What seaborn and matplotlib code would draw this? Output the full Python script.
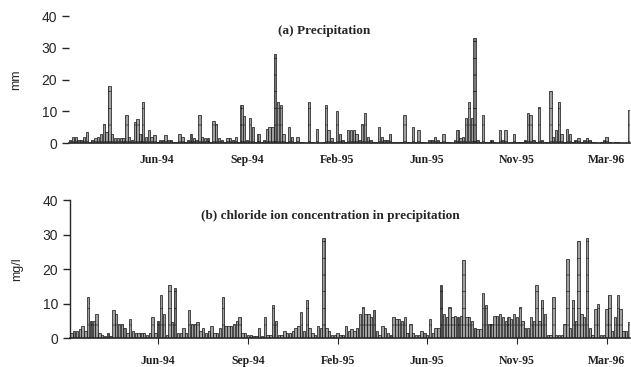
import numpy as np
import pandas as pd
import matplotlib
matplotlib.use("Agg")
import matplotlib.pyplot as plt
import seaborn as sns

# weekly samples
precip = [
    1, 2, 2, 1, 1, 2, 3.5, 0.5, 1, 1.5,
    2, 3, 6, 3.5, 18, 3, 1.5, 1.5, 1.5, 1.5,
    9, 2, 1, 6.5, 7.5, 3, 13, 2, 4, 2,
    2.5, 0.5, 1, 1, 2.5, 1, 1, 0.5, 0.3, 3,
    2, 0.5, 1, 3, 1.5, 1, 9, 2, 1.5, 1.5,
    0.5, 7, 6, 1.5, 1, 0.5, 1.5, 1.5, 1, 2,
    0.5, 12, 8.5, 1, 8, 5, 0.5, 3, 0.5, 1,
    4.5, 5, 5, 28, 13, 12, 3, 0.5, 5, 2,
    0.5, 2, 0.5, 0.5, 0, 13, 0.5, 0, 4.5, 0,
    0.3, 12, 4, 1.5, 0.5, 10, 3, 1, 0.5, 4,
    4, 4, 3, 1, 6, 9.5, 2, 1, 0.5, 0.5,
    5, 2, 1, 1, 3, 0.5, 0.5, 0.3, 0.5, 9,
    0.5, 0.5, 5, 0.5, 4, 0.5, 0.3, 0, 1, 1,
    2, 1, 0.5, 3, 0.5, 0.3, 0, 1, 4, 1.5,
    2, 8, 13, 8, 33, 1, 0.5, 9, 0.5, 0.3,
    1, 0.3, 0, 4, 1, 4, 0, 0.3, 3, 0.5,
    0.3, 0.5, 1, 9.5, 9, 1, 0.5, 11.5, 1, 0.3,
    0.5, 16.5, 2, 4, 13, 3, 0.5, 4.5, 3, 0.5,
    1, 1.5, 0.5, 1, 1.5, 1, 0.5, 0.3, 0, 0.5,
    1, 2, 0.5, 0, 0.3, 0.3, 0, 0, 0, 10.5,
]

chloride = [
    1.5, 2, 2, 2.5, 3.5, 2, 12, 5, 5, 7,
    1.5, 1, 0.5, 1.5, 0.5, 8, 7, 4, 4, 3,
    1.5, 5.5, 2, 1.5, 1.5, 1.5, 1.5, 1, 1.5, 6,
    1.5, 5, 12.5, 7, 1, 15.5, 4.5, 14.5, 1.5, 1.5,
    3, 1.5, 8, 4, 4, 4.5, 2, 3, 1.5, 2,
    3.5, 1.5, 1.5, 3, 12, 3.5, 3.5, 3.5, 4, 5,
    6, 1.5, 1.5, 1, 1, 0.5, 0.5, 3, 0.5, 6,
    1, 1, 9.5, 5, 1, 1, 2, 1.5, 1.5, 2,
    3, 3.5, 7.5, 2, 11, 3, 1.5, 1, 3.5, 3,
    29, 3, 2, 1, 1, 1.5, 1, 1, 3.5, 2,
    2.5, 2, 3, 7, 9, 7, 7, 6, 8, 2,
    1, 3.5, 3, 1.5, 1, 6, 5.5, 5.5, 5, 6,
    1.5, 4, 1.5, 1, 1, 2, 1.5, 1, 5.5, 1.5,
    3, 3, 15.5, 7, 6, 9, 6, 6.5, 6, 6.5,
    22.5, 6, 6, 5, 3, 2.5, 2.5, 13, 9.5, 4,
    4, 6.5, 6.5, 7, 6, 5, 6, 5.5, 7, 6,
    9, 5, 3, 3, 6, 5, 15.5, 5, 11, 7,
    1, 1, 12, 1, 1, 1, 4, 23, 3, 11,
    5, 28, 7, 6, 29, 3, 1, 8.5, 10, 1,
    1, 8.5, 12.5, 2, 6, 12.5, 8.5, 2, 2, 4.5,
]

tick_pos = [31, 63, 95, 127, 159, 191]
tick_labels = ["Jun-94", "Sep-94", "Feb-95", "Jun-95", "Nov-95", "Mar-96"]

df = pd.DataFrame({"week": np.arange(len(precip)), "precip": precip, "chloride": chloride})

sns.set_style("ticks")
plt.rcParams["font.family"] = ["Liberation Sans", "DejaVu Sans"]
plt.rcParams["hatch.linewidth"] = 0.4

fig = plt.figure(figsize=(6.31, 3.67), dpi=100)
ax1 = fig.add_axes([0.109, 0.610, 0.890, 0.346])
ax2 = fig.add_axes([0.111, 0.079, 0.888, 0.376])

serif = ["Liberation Serif", "DejaVu Serif"]

for ax, col in [(ax1, "precip"), (ax2, "chloride")]:
    sns.barplot(data=df, x="week", y=col, ax=ax, color="#a0a0a0",
                edgecolor="#111111", linewidth=0.5, width=0.85,
                hatch="+", saturation=1)
    ax.set_xlim(-0.5, len(precip) - 0.5)
    ax.set_ylim(0, 40)
    ax.set_yticks([0, 10, 20, 30, 40])
    ax.set_xticks(tick_pos)
    ax.set_xticklabels(tick_labels, fontfamily=serif, fontweight="bold",
                       fontsize=8.5, color="#222222")
    ax.tick_params(axis="y", labelsize=10, length=5, width=1)
    ax.set_xlabel("")
    sns.despine(ax=ax, top=True, right=True)
    ax.spines["bottom"].set_linewidth(1.2)

# panel a: no y spine, no x ticks
ax1.spines["left"].set_visible(False)
ax1.tick_params(axis="x", length=0, pad=8)
ax2.tick_params(axis="x", length=4, pad=8)
ax2.spines["left"].set_linewidth(1)

ax1.set_ylabel("mm", fontsize=9, labelpad=14)
ax2.set_ylabel("mg/l", fontsize=9, labelpad=14)

ax1.text(0.455, 0.86, "(a) Precipitation", transform=ax1.transAxes,
         ha="center", fontfamily=serif, fontweight="bold", fontsize=9.5)
ax2.text(0.465, 0.86, "(b) chloride ion concentration in precipitation",
         transform=ax2.transAxes, ha="center", fontfamily=serif,
         fontweight="bold", fontsize=9.5)

fig.savefig("out.png", dpi=100)
